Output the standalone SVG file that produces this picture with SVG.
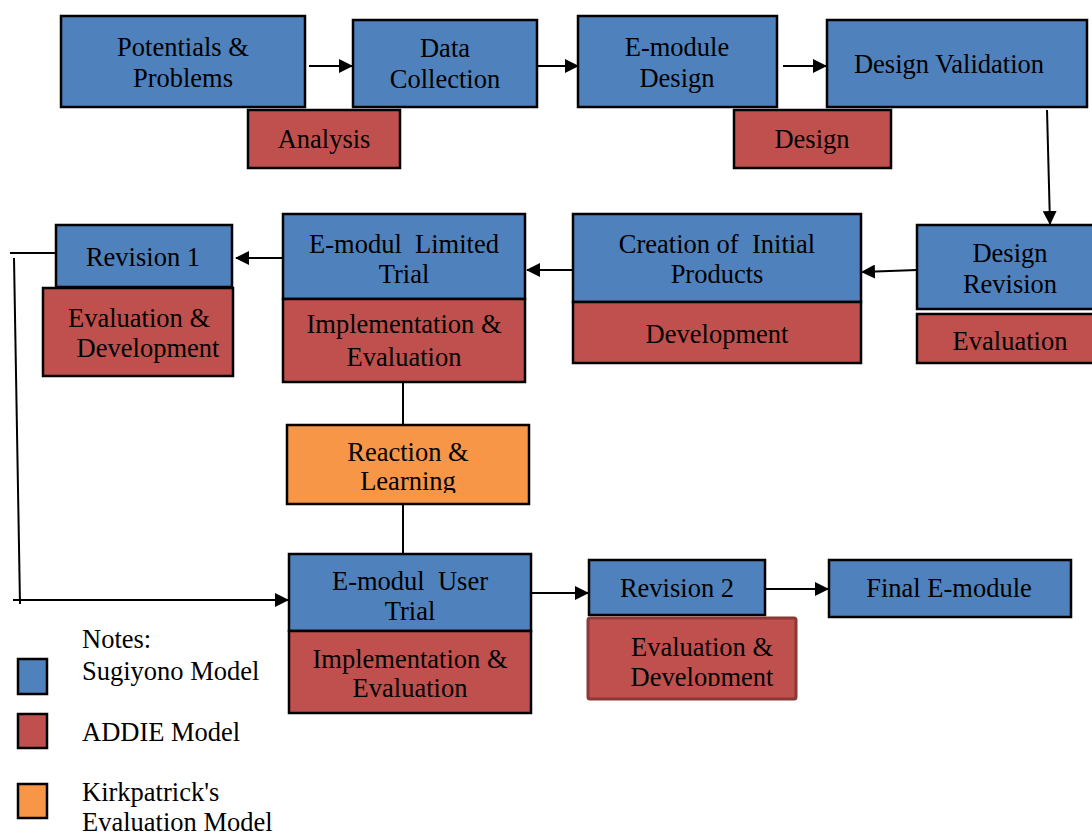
<svg xmlns="http://www.w3.org/2000/svg" width="1092" height="834" viewBox="0 0 1092 834">
<style>
.b{fill:#4F81BD;stroke:#000;stroke-width:2.5}
.r{fill:#C0504D;stroke:#000;stroke-width:2.5}
.o{fill:#F79646;stroke:#000;stroke-width:2.5}
text{font-family:"Liberation Serif","Times New Roman",serif;font-size:26.5px;fill:#000;text-anchor:middle}
.l{text-anchor:start}
.c{stroke:#000;stroke-width:2;fill:none}
</style>
<defs>
<marker id="a" viewBox="0 0 14 14" refX="13" refY="7" markerWidth="14" markerHeight="14" orient="auto" markerUnits="userSpaceOnUse">
<path d="M0,0 L14,7 L0,14 Z" fill="#000"/>
</marker>
<clipPath id="clipL"><rect x="287" y="425" width="242" height="68"/></clipPath>
<clipPath id="clipD"><rect x="587" y="617" width="210" height="69"/></clipPath>
</defs>

<g id="connectors">
<line class="c" x1="309" y1="66" x2="352" y2="66" marker-end="url(#a)"/>
<line class="c" x1="537" y1="66" x2="578" y2="66" marker-end="url(#a)"/>
<line class="c" x1="783" y1="66" x2="826" y2="66" marker-end="url(#a)"/>
<line class="c" x1="1047" y1="110" x2="1050" y2="224" marker-end="url(#a)"/>
<line class="c" x1="917" y1="270" x2="862" y2="272" marker-end="url(#a)"/>
<line class="c" x1="573" y1="270" x2="527" y2="270" marker-end="url(#a)"/>
<line class="c" x1="283" y1="258" x2="236" y2="258" marker-end="url(#a)"/>
<line class="c" x1="56" y1="253" x2="10" y2="253"/>
<line class="c" x1="14" y1="258" x2="20" y2="604"/>
<line class="c" x1="13" y1="600" x2="288" y2="600" marker-end="url(#a)"/>
<line class="c" x1="403" y1="382" x2="403" y2="425"/>
<line class="c" x1="403" y1="504" x2="403" y2="554"/>
<line class="c" x1="531" y1="593" x2="588" y2="593" marker-end="url(#a)"/>
<line class="c" x1="766" y1="589" x2="828" y2="589" marker-end="url(#a)"/>
</g>

<g id="n-potentials">
<rect class="b" x="61" y="16" width="244" height="91"/>
<text x="183" y="56">Potentials &amp;</text>
<text x="183" y="87">Problems</text>
</g>
<g id="n-data">
<rect class="b" x="353" y="20" width="184" height="87"/>
<text x="445" y="57">Data</text>
<text x="445" y="88">Collection</text>
</g>
<g id="n-emodule-design">
<rect class="b" x="578" y="16" width="199" height="91"/>
<text x="677" y="56">E-module</text>
<text x="677" y="87">Design</text>
</g>
<g id="n-design-validation">
<rect class="b" x="827" y="20" width="260" height="87"/>
<text x="949" y="73">Design Validation</text>
</g>
<g id="n-analysis">
<rect class="r" x="248" y="110" width="152" height="58"/>
<text x="324" y="148">Analysis</text>
</g>
<g id="n-design">
<rect class="r" x="734" y="110" width="157" height="58"/>
<text x="812" y="148">Design</text>
</g>

<g id="n-design-revision">
<rect class="b" x="917" y="225" width="180" height="84"/>
<text x="1010" y="262">Design</text>
<text x="1010" y="293">Revision</text>
<rect class="r" x="917" y="314" width="180" height="49"/>
<text x="1010" y="350">Evaluation</text>
</g>
<g id="n-creation">
<rect class="b" x="573" y="214" width="288" height="88"/>
<text x="717" y="253" xml:space="preserve">Creation of  Initial</text>
<text x="717" y="283">Products</text>
<rect class="r" x="573" y="302" width="288" height="61"/>
<text x="717" y="343">Development</text>
</g>
<g id="n-limited-trial">
<rect class="b" x="283" y="214" width="242" height="85"/>
<text x="404" y="253" xml:space="preserve">E-modul  Limited</text>
<text x="404" y="283">Trial</text>
<rect class="r" x="283" y="299" width="242" height="83"/>
<text x="404" y="333">Implementation &amp;</text>
<text x="404" y="366">Evaluation</text>
</g>
<g id="n-revision1">
<rect class="b" x="56" y="225" width="176" height="62"/>
<text x="143" y="266">Revision 1</text>
<rect class="r" x="43" y="288" width="190" height="88"/>
<text x="139" y="327">Evaluation &amp;</text>
<text x="148" y="357">Development</text>
</g>
<g id="n-reaction">
<rect class="o" x="287" y="425" width="242" height="79"/>
<text x="408" y="461">Reaction &amp;</text>
<text x="408" y="490" clip-path="url(#clipL)">Learning</text>
</g>
<g id="n-user-trial">
<rect class="b" x="289" y="554" width="242" height="77"/>
<text x="410" y="590" xml:space="preserve">E-modul  User</text>
<text x="410" y="620">Trial</text>
<rect class="r" x="289" y="631" width="242" height="82"/>
<text x="410" y="668">Implementation &amp;</text>
<text x="410" y="697">Evaluation</text>
</g>
<g id="n-revision2">
<rect class="b" x="589" y="560" width="176" height="55"/>
<text x="677" y="597">Revision 2</text>
<rect x="588" y="618" width="208" height="81" rx="2" fill="#C0504D" stroke="#8C3836" stroke-width="3"/>
<text x="702" y="656">Evaluation &amp;</text>
<text x="702" y="686" clip-path="url(#clipD)">Development</text>
</g>
<g id="n-final">
<rect class="b" x="829" y="560" width="242" height="57"/>
<text x="949" y="597">Final E-module</text>
</g>

<g id="legend">
<text class="l" x="82" y="648">Notes:</text>
<rect class="b" x="18" y="659" width="29" height="35"/>
<text class="l" x="82" y="680">Sugiyono Model</text>
<rect class="r" x="18" y="714" width="29" height="34"/>
<text class="l" x="82" y="741">ADDIE Model</text>
<rect class="o" x="18" y="784" width="29" height="34"/>
<text class="l" x="82" y="801">Kirkpatrick's</text>
<text class="l" x="82" y="831">Evaluation Model</text>
</g>
</svg>
